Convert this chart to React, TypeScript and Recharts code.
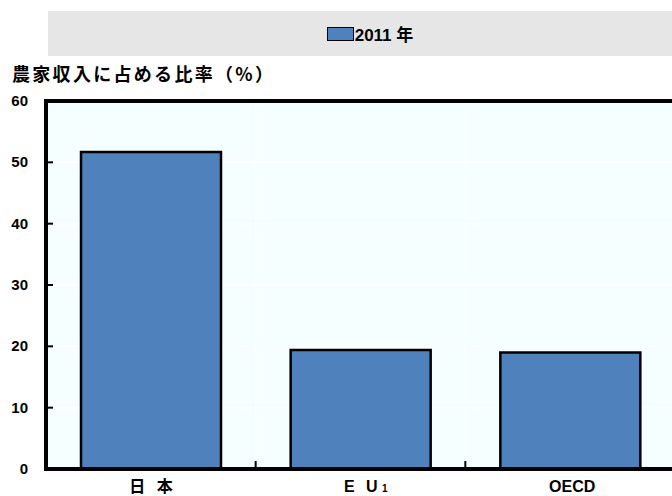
import { BarChart, Bar, XAxis, YAxis, CartesianGrid, Legend, ReferenceLine } from "recharts";

const CATEGORIES = ["日 本", "EU", "OECD"];
const FOOTNOTES: Record<string, string> = { EU: "1" };
const SHARE_2011 = [51.7, 19.4, 19.0];
const Y_TICKS = [0, 10, 20, 30, 40, 50, 60];
const SERIES_NAME = "2011 年";
const Y_TITLE = "農家収入に占める比率（%）";

const BAR_FILL = "#4f81bd";
const FONT = "'Liberation Sans', 'Noto Sans CJK JP', sans-serif";

const data = CATEGORIES.map((c, i) => ({ name: c, value: SHARE_2011[i] }));

function YTick({ x, y, payload }: { x: number; y: number; payload: { value: number } }) {
  return (
    <g>
      <line x1={x} x2={x + 7} y1={y} y2={y} stroke="#000" strokeWidth={2} />
      <text x={x - 18} y={y} dy={5} textAnchor="end" fontFamily={FONT} fontWeight="bold" fontSize={15} fill="#000">
        {payload.value}
      </text>
    </g>
  );
}

function XTick({ x, y, payload }: { x: number; y: number; payload: { value: string; index: number; offset?: number } }) {
  const note = FOOTNOTES[payload.value];
  const edge = x + (payload.offset ?? 0);
  return (
    <g>
      {payload.index < CATEGORIES.length - 1 && (
        <line x1={edge} x2={edge} y1={y - 2} y2={y - 8} stroke="#000" strokeWidth={2} />
      )}
      <text
        x={note ? x + 7 : x + 2}
        y={y + 23}
        textAnchor="middle"
        fontFamily={FONT}
        fontWeight="bold"
        fontSize={16}
        letterSpacing={payload.value === "OECD" ? 0 : 3.5}
        fill="#000"
      >
        {payload.value === "EU" ? "E U" : payload.value}
        {note && <tspan fontSize={10} dx={1}>{note}</tspan>}
      </text>
    </g>
  );
}

function LegendBox() {
  return (
    <div
      style={{
        width: "100%",
        height: "100%",
        background: "#e6e6e6",
        display: "flex",
        alignItems: "center",
        justifyContent: "center",
        fontFamily: FONT,
        fontWeight: "bold",
        fontSize: 17,
        color: "#000",
      }}
    >
      <span
        style={{
          display: "inline-block",
          width: 25,
          height: 12,
          background: BAR_FILL,
          border: "1.5px solid #000",
          marginRight: 1,
        }}
      />
      <span>{SERIES_NAME}</span>
    </div>
  );
}

export default function App() {
  return (
    <div style={{ position: "absolute", left: 0, top: 0, width: 672, height: 496, overflow: "hidden", background: "#fff" }}>
      <BarChart width={680} height={496} data={data} margin={{ top: 101, right: 5, bottom: 0, left: 0 }}>
        <CartesianGrid
          fill="#f5ffff"
          stroke="#ffffff"
          strokeWidth={1.5}
          verticalCoordinatesGenerator={({ offset }: any) =>
            CATEGORIES.slice(1).map((_, i) => offset.left + (offset.width * (i + 1)) / CATEGORIES.length)
          }
        />
        <XAxis
          dataKey="name"
          height={27}
          tickSize={0}
          tickMargin={0}
          tickLine={false}
          axisLine={{ stroke: "#000", strokeWidth: 4, strokeLinecap: "square" }}
          tick={(p: any) => <XTick {...p} />}
          interval={0}
        />
        <YAxis
          width={46}
          domain={[0, 60]}
          ticks={Y_TICKS}
          tickSize={0}
          tickMargin={0}
          tickLine={false}
          axisLine={{ stroke: "#000", strokeWidth: 4, strokeLinecap: "square" }}
          tick={(p: any) => <YTick {...p} />}
        />
        <ReferenceLine y={60} stroke="#000" strokeWidth={4} strokeLinecap="square" />
        <Legend
          verticalAlign="middle"
          align="center"
          content={() => <LegendBox />}
          wrapperStyle={{ position: "absolute", top: 11, left: 48, width: 644, height: 45 }}
        />
        <Bar dataKey="value" name={SERIES_NAME} fill={BAR_FILL} stroke="#000" strokeWidth={2.5} barSize={140} isAnimationActive={false} />
      </BarChart>
      <div
        style={{
          position: "absolute",
          left: 12,
          top: 63,
          fontFamily: "'Noto Sans CJK JP', sans-serif",
          fontWeight: "bold",
          fontSize: 18,
          lineHeight: "20px",
          letterSpacing: 2.3,
          color: "#000",
          whiteSpace: "nowrap",
        }}
      >
        {Y_TITLE}
      </div>
    </div>
  );
}
